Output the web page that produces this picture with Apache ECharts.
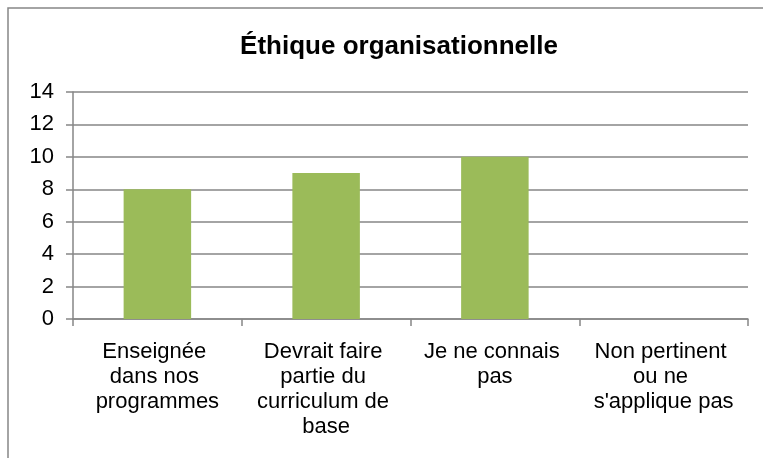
<!DOCTYPE html>
<html>
<head>
<meta charset="utf-8">
<title>Éthique organisationnelle</title>
<script src="https://cdn.jsdelivr.net/npm/echarts@6/dist/echarts.min.js"></script>
<style>
  html, body { margin: 0; padding: 0; background: #fff; overflow: hidden; }
  #main { width: 763px; height: 458px; }
</style>
</head>
<body>
<div id="main"></div>
<script>
// chart data
const titleText = 'Éthique organisationnelle'
const categories = [
  'Enseignée dans nos programmes',
  'Devrait faire partie du curriculum de base',
  'Je ne connais pas',
  "Non pertinent ou ne s'applique pas"
]
const values = [8, 9, 10, 0]
const yMin = 0
const yMax = 14
const yStep = 2

const gridColor = '#868686'
const fontFamily = 'Liberation Sans, Arial, sans-serif'

const chart = echarts.init(document.getElementById('main'))

const option = {
  animation: false,
  // outer frame of the chart area (only top and left edges are in view)
  graphic: [{
    type: 'rect',
    shape: { x: 8, y: 8, width: 820, height: 520 },
    style: { fill: 'none', stroke: gridColor, lineWidth: 1.5 },
    silent: true
  }],
  title: {
    text: titleText,
    left: 394,
    top: 29,
    textAlign: 'center',
    textStyle: {
      fontFamily: fontFamily,
      fontSize: 26,
      fontWeight: 'bold',
      color: '#000'
    }
  },
  grid: {
    left: 73,
    right: 15,
    top: 92,
    bottom: 139,
    containLabel: false
  },
  xAxis: {
    type: 'category',
    data: categories,
    axisLine: { lineStyle: { color: gridColor, width: 1.5 } },
    axisTick: { show: true, length: 7, lineStyle: { color: gridColor, width: 1.5 } },
    axisLabel: {
      interval: 0,
      margin: 20,
      color: '#000',
      fontFamily: fontFamily,
      fontSize: 22,
      lineHeight: 25,
      width: 152,
      overflow: 'break'
    }
  },
  yAxis: {
    type: 'value',
    min: yMin,
    max: yMax,
    interval: yStep,
    axisLine: { show: true, lineStyle: { color: gridColor, width: 1.5 } },
    axisTick: { show: true, length: 7, lineStyle: { color: gridColor, width: 1.5 } },
    splitLine: { lineStyle: { color: gridColor, width: 1.5 } },
    axisLabel: {
      margin: 19,
      color: '#000',
      fontFamily: fontFamily,
      fontSize: 22
    }
  },
  series: [{
    type: 'bar',
    data: values,
    barWidth: '40%',
    itemStyle: { color: '#9BBB59' }
  }]
}

option && chart.setOption(option)
</script>
</body>
</html>
